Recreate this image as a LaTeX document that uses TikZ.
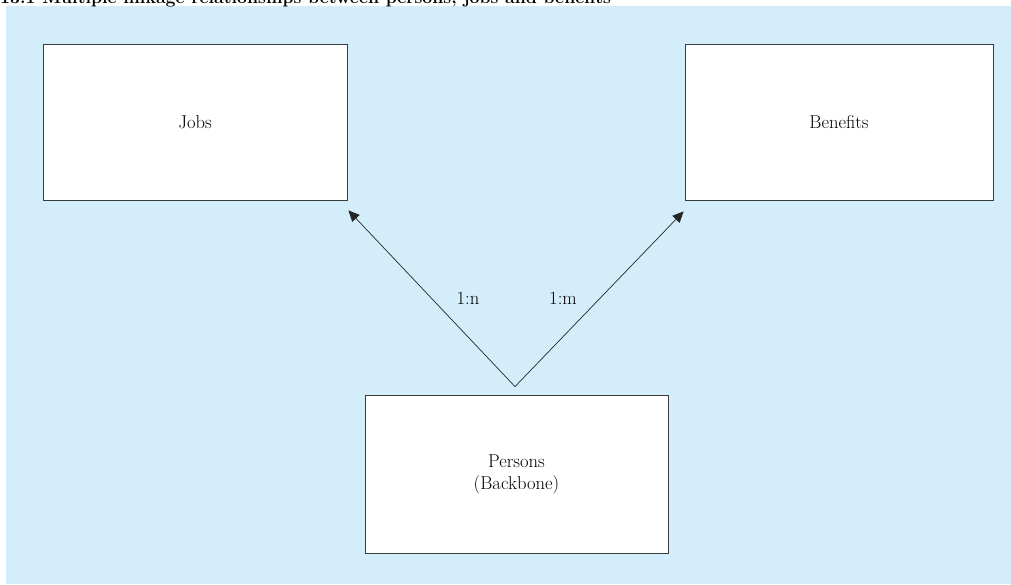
\documentclass[tikz,border=0pt]{standalone}
\usepackage{fontspec}
\usetikzlibrary{arrows.meta,calc}
\definecolor{bgblue}{RGB}{211,238,250}
\definecolor{boxline}{RGB}{60,60,60}
\begin{document}
\begin{tikzpicture}[x=1pt,y=-1pt,
  entity/.style={draw=boxline,line width=0.8pt,fill=white,inner sep=0pt,font=\fontsize{18.6}{22}\selectfont,align=center},
  link/.style={draw=black!85,line width=0.7pt,-{Triangle[length=11pt,width=10pt]}},
  lbl/.style={font=\fontsize{18.6}{22}\selectfont,inner sep=0pt}]
\useasboundingbox (0,0) rectangle (1011,584);
\fill[bgblue] (6,6) rectangle (1011,584);
\node[anchor=base west,inner sep=0pt,font=\bfseries\fontsize{17.7}{21}\selectfont] (title) at (0,3) {13.1 Multiple linkage relationships between persons, jobs and benefits};
\node[entity,minimum width=304pt,minimum height=156pt] (jobs) at (195,122) {Jobs};
\node[entity,minimum width=308pt,minimum height=156pt] (benefits) at (839,122) {Benefits};
\node[entity,minimum width=303pt,minimum height=158pt] (persons) at (516.5,474) {Persons\\(Backbone)};
\coordinate (apex) at ($(persons.north)+(-1.5,-8)$);
\coordinate (jtip) at ($(jobs.south east)+(1,10)$);
\coordinate (btip) at ($(benefits.south west)+(-1,11)$);
\draw[link] (apex) -- (jtip);
\draw[link] (apex) -- (btip);
\node[lbl] (n) at (468,298) {1:n};
\node[lbl] (m) at (563,298) {1:m};
\end{tikzpicture}
\end{document}
